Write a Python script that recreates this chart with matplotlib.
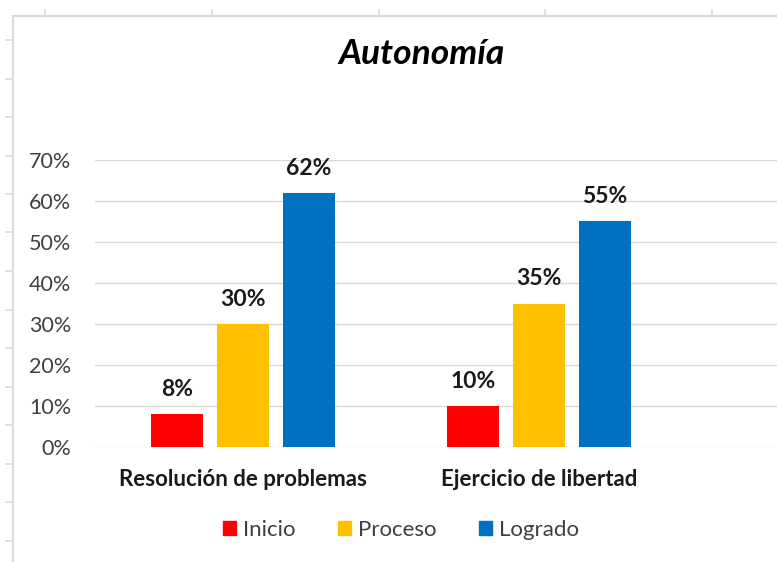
import matplotlib
matplotlib.use("Agg")
import matplotlib.pyplot as plt
from matplotlib.lines import Line2D
from matplotlib.patches import Patch
import numpy as np

categories = ["Resolución de problemas", "Ejercicio de libertad"]
series_names = ["Inicio", "Proceso", "Logrado"]
inicio = [0.08, 0.10]
proceso = [0.30, 0.35]
logrado = [0.62, 0.55]
yticks = [0.0, 0.1, 0.2, 0.3, 0.4, 0.5, 0.6, 0.7]
ytick_labels = ["0%", "10%", "20%", "30%", "40%", "50%", "60%", "70%"]
title = "Autonomía"

colors = ["#FF0000", "#FFC000", "#0070C0"]
FONT = ["Lato", "DejaVu Sans"]
plt.rcParams["font.family"] = FONT

W, H = 777, 562
fig = plt.figure(figsize=(W / 100, H / 100), dpi=100)

def fx(px):
    return px / W

def fy(py):
    return 1 - py / H

# spreadsheet-like background borders
grey = "#d9d9d9"
fig.add_artist(Line2D([fx(13), 1], [fy(16), fy(16)], color=grey, lw=1.5))
fig.add_artist(Line2D([fx(13), fx(13)], [fy(16), 0], color=grey, lw=1.5))
for px in [45, 212, 379, 545, 712]:
    fig.add_artist(Line2D([fx(px), fx(px)], [fy(10), fy(16)], color=grey, lw=1.2))
for k in range(14):
    py = 40 + 38.5 * k
    fig.add_artist(Line2D([fx(6), fx(13)], [fy(py), fy(py)], color=grey, lw=1.2))

ax = fig.add_axes([fx(95), fy(447), fx(777 - 95), (447 - 160) / H])
x = np.arange(len(categories))
offset = 66 / 296
width = 52 / 296
data = [inicio, proceso, logrado]
for i, (name, vals) in enumerate(zip(series_names, data)):
    bars = ax.bar(x + (i - 1) * offset, vals, width, color=colors[i], label=name, zorder=3)
    for b, v in zip(bars, vals):
        ax.annotate(f"{v*100:.0f}%", (b.get_x() + b.get_width() / 2, v),
                    xytext=(0, 13), textcoords="offset points",
                    ha="center", va="baseline", fontsize=16.5, fontweight="bold",
                    color="#1a1a1a")

ax.set_xlim(-0.5, 1.804)
ax.set_ylim(0, 0.7)
ax.set_yticks(yticks)
ax.set_yticklabels(ytick_labels, fontsize=15.5, color="#404040")
ax.set_xticks(x)
ax.set_xticklabels(categories, fontsize=16, fontweight="bold", color="#1a1a1a")
ax.tick_params(axis="y", length=0, pad=17)
ax.tick_params(axis="x", length=0, pad=16)
ax.yaxis.grid(True, color=grey, lw=1.0, zorder=0)
for s in ax.spines.values():
    s.set_visible(False)

fig.text(fx(422), fy(54), title, ha="center", va="center", fontsize=25.5,
         fontweight="bold", fontstyle="italic", color="black")

handles = [Patch(facecolor=c, edgecolor=c) for c in colors]
fig.legend(handles, series_names, loc="center", bbox_to_anchor=(fx(401), fy(530)),
           ncol=3, frameon=False, fontsize=16, handlelength=0.6, handleheight=0.6,
           handletextpad=0.32, columnspacing=1.9, labelcolor="#404040")

fig.savefig("out.png", dpi=100)
